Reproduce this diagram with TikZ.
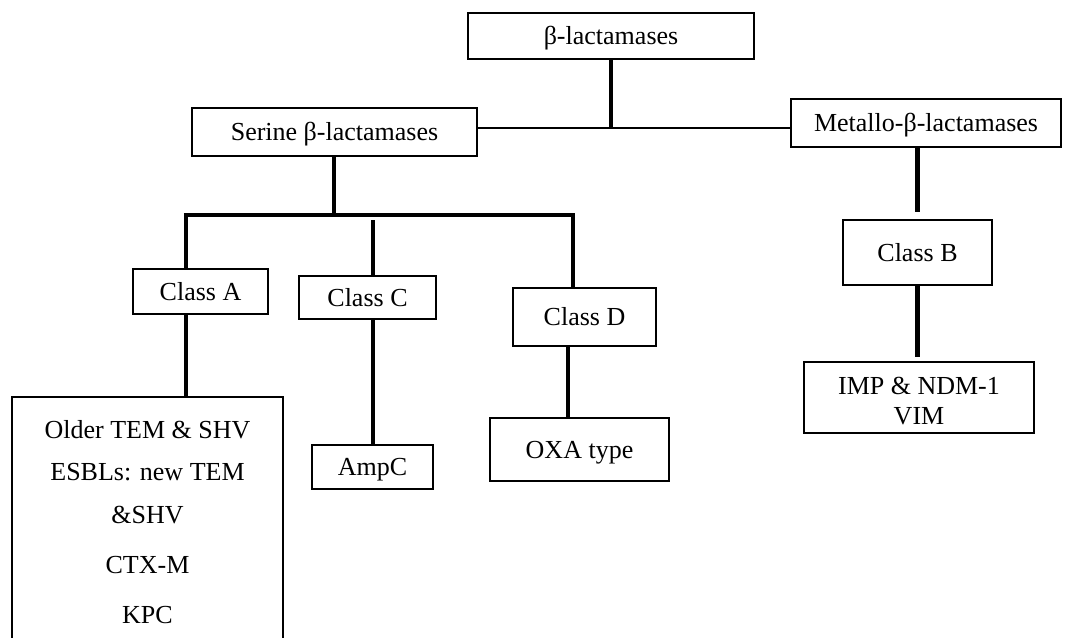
\documentclass[tikz,border=0pt]{standalone}
\usepackage{fontspec}
\setmainfont{Liberation Serif}
\begin{document}
\begin{tikzpicture}[x=1pt,y=-1pt,
  box/.style={draw=black,line width=2.8pt,inner sep=0pt,outer sep=0pt,
    font=\fontsize{26}{30}\selectfont,text height=17pt,text depth=0pt},
  lbl/.style={inner sep=0pt,font=\fontsize{26}{30}\selectfont,text height=17pt,text depth=0pt},
  conn/.style={line width=4.2pt,line cap=butt},
  thin/.style={line width=2.2pt}]
\useasboundingbox (0,0) rectangle (1065,637);
\fill[white] (0,0) rectangle (1065,637);
\clip (0,0) rectangle (1065,637);
% boxes
\node[box,minimum width=286pt,minimum height=46pt] (top) at (611,36) {β-lactamases};
\node[box,minimum width=285pt,minimum height=48pt] (serine) at (334.5,132) {Serine β-lactamases};
\node[box,minimum width=270pt,minimum height=48pt] (metallo) at (926,123) {Metallo-β-lactamases};
\node[box,minimum width=135pt,minimum height=45pt] (classA) at (200.5,291.5) {Class A};
\node[box,minimum width=137pt,minimum height=43pt] (classC) at (367.5,297.5) {Class C};
\node[box,minimum width=143pt,minimum height=58pt] (classD) at (584.5,317) {Class D};
\node[box,minimum width=149pt,minimum height=65pt] (classB) at (917.5,252.5) {Class B};
\node[box,minimum width=121pt,minimum height=44pt] (ampc) at (372.5,467) {AmpC};
\node[box,minimum width=179pt,minimum height=63pt] (oxa) at (579.5,449.5) {OXA type};
\node[box,minimum width=230pt,minimum height=71pt] (imp) at (919,397.5) {};
\node[lbl] (i1) at (919,386) {IMP \& NDM-1};
\node[lbl] (i2) at (919,416) {VIM};
\node[box,minimum width=271pt,minimum height=280pt,anchor=north] (big) at (147.5,397) {};
\node[lbl] (t1) at (147.5,430) {Older TEM \& SHV};
\node[lbl] (t2) at (147.5,472) {ESBLs: new TEM};
\node[lbl] (t3) at (147.5,515) {\&SHV};
\node[lbl] (t4) at (147.5,565) {CTX-M};
\node[lbl] (t5) at (147.5,615) {KPC};
% junction coordinates
\coordinate (j1) at (611,128);
\coordinate (bus) at (334,215);
\coordinate (ja) at (186,215);
\coordinate (jc) at (373,220);
\coordinate (jd) at (573,215);
% connectors
\draw[conn] (top.south -| j1) -- (j1);
\draw[thin] (serine.east |- j1) -- (metallo.west |- j1);
\draw[conn] (serine.south -| bus) -- (bus);
\draw[conn] ([xshift=-2.1pt]ja) -- ([xshift=2.1pt]jd);
\draw[conn] (ja) -- (ja |- classA.north);
\draw[conn] (jc) -- (jc |- classC.north);
\draw[conn] (jd) -- (jd |- classD.north);
\draw[conn] (classA.south -| ja) -- (big.north -| ja);
\draw[conn] (classC.south -| jc) -- (ampc.north -| jc);
\draw[conn] (classD.south -| 568,0) -- (oxa.north -| 568,0);
\draw[conn,shorten >=8pt] (metallo.south -| classB.north) -- (classB.north);
\draw[conn,shorten >=5pt] (classB.south) -- (imp.north -| classB.south);
\end{tikzpicture}
\end{document}
